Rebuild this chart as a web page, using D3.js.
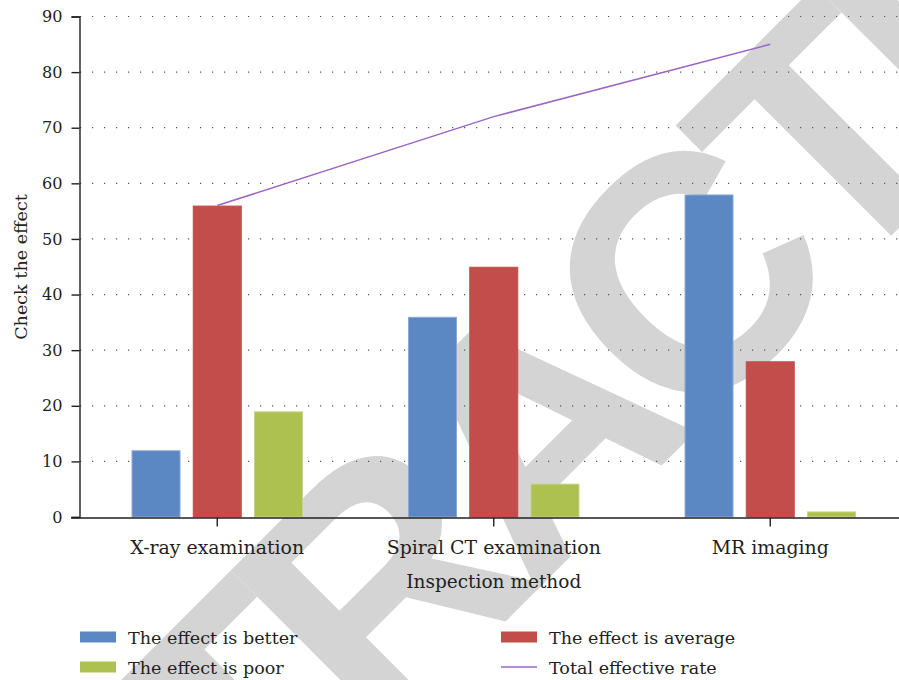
<!DOCTYPE html>
<html>
<head>
<meta charset="utf-8">
<script src="https://cdn.jsdelivr.net/npm/d3@7"></script>
<style>
  html, body { margin: 0; padding: 0; background: #fff; }
  svg { display: block; }
  text { font-family: "DejaVu Serif", "Liberation Serif", serif; fill: #231f20; }
</style>
</head>
<body>
<svg id="chart" width="899" height="680"></svg>
<script>
// Inspection methods and the three effect groups (counts), plus total effective rate (%)
const categories = ["X-ray examination", "Spiral CT examination", "MR imaging"];
const seriesNames = ["The effect is better", "The effect is average", "The effect is poor"];
const better  = [12, 36, 58];
const average = [56, 45, 28];
const poor    = [19, 6, 1];
const totalRate = [56, 72, 85];
const lineName = "Total effective rate";
const yTicks = [0, 10, 20, 30, 40, 50, 60, 70, 80, 90];
const colors = ["#5b87c2", "#c24d4a", "#adc151"];
const edgeColors = ["#8aa9d6", "#c24d4a", "#c6d48a"];
const lineColor = "#9b65c6";

const series = [better, average, poor];
const svg = d3.select("#chart");
const serif = "'DejaVu Serif', 'Liberation Serif', serif";

// Diagonal "RETRACTED" stamp sits behind the chart
svg.append("text")
  .attr("transform", "translate(-40.7,1167.8) rotate(-45)")
  .attr("text-anchor", "start")
  .style("font-family", "'Liberation Sans', Arial, sans-serif")
  .style("font-weight", "bold")
  .style("font-size", "335px")
  .style("letter-spacing", "-26px")
  .style("fill", "#d4d4d4")
  .text("RETRACTED");

const x0 = d3.scaleBand().domain(categories).range([79, 908.5]).padding(0);
const bw = x0.bandwidth();
const x1 = d3.scaleBand().domain(d3.range(3)).range([bw * 0.19, bw * 0.81]).paddingInner(0.2);
const y = d3.scaleLinear().domain([0, 90]).range([517, 16.5]);

// Dotted horizontal gridlines
svg.append("g")
  .selectAll("line")
  .data(yTicks.filter(d => d > 0))
  .join("line")
  .attr("x1", 80).attr("x2", 899)
  .attr("y1", d => y(d)).attr("y2", d => y(d))
  .attr("stroke", "#555")
  .attr("stroke-width", 1.2)
  .attr("stroke-dasharray", "1.2,10.8")
  .attr("stroke-dashoffset", -12);

// Grouped bars
const groups = svg.append("g")
  .selectAll("g")
  .data(categories)
  .join("g")
  .attr("transform", c => `translate(${x0(c)},0)`);

groups.selectAll("rect")
  .data((c, ci) => series.map((s, si) => ({ si, v: s[ci] })))
  .join("rect")
  .attr("x", d => x1(d.si) + 0.5)
  .attr("width", x1.bandwidth() - 1)
  .attr("y", d => y(d.v) + 0.5)
  .attr("height", d => y(0) - y(d.v) - 0.5)
  .attr("fill", d => colors[d.si])
  .attr("stroke", d => edgeColors[d.si])
  .attr("stroke-width", 1);

// Total effective rate line
const line = d3.line()
  .x((d, i) => x0(categories[i]) + bw / 2)
  .y(d => y(d));
svg.append("path")
  .datum(totalRate)
  .attr("d", line)
  .attr("fill", "none")
  .attr("stroke", lineColor)
  .attr("stroke-width", 1.5);

// Axes
const yAxis = svg.append("g")
  .attr("transform", "translate(79.5,0)")
  .call(d3.axisLeft(y).tickValues(yTicks).tickSize(8).tickPadding(9).tickFormat(d3.format("d")));
const xAxis = svg.append("g")
  .attr("transform", "translate(0,517.5)")
  .call(d3.axisBottom(x0).tickSize(9).tickSizeOuter(0).tickPadding(14));

[yAxis, xAxis].forEach(a => {
  a.select(".domain").attr("stroke", "#231f20").attr("stroke-width", 1.4);
  a.selectAll(".tick line").attr("stroke", "#231f20").attr("stroke-width", 1.4);
  a.selectAll("text")
    .style("font-family", serif)
    .attr("fill", "#231f20");
});
// extend x-axis line left to meet the y tick at zero
xAxis.select(".domain").attr("d", "M71,0.5H899");

// Axis titles
const xTitle = svg.append("text")
  .attr("x", x0(categories[1]) + bw / 2)
  .attr("y", 588)
  .attr("text-anchor", "middle")
  .text("Inspection method");
const yTitle = svg.append("text")
  .attr("transform", "translate(27,267) rotate(-90)")
  .attr("text-anchor", "middle")
  .text("Check the effect");

// Legend
const legendItems = [
  { name: seriesNames[0], type: "rect", color: colors[0], x: 80, y: 637 },
  { name: seriesNames[1], type: "rect", color: colors[1], x: 501, y: 637 },
  { name: seriesNames[2], type: "rect", color: colors[2], x: 80, y: 667 },
  { name: lineName, type: "line", color: lineColor, x: 501, y: 667 }
];
const lg = svg.append("g")
  .selectAll("g")
  .data(legendItems)
  .join("g")
  .attr("transform", d => `translate(${d.x},${d.y})`);
lg.filter(d => d.type === "rect").append("rect")
  .attr("x", 0).attr("y", -5.5).attr("width", 36).attr("height", 11)
  .attr("fill", d => d.color);
lg.filter(d => d.type === "line").append("line")
  .attr("x1", 0).attr("x2", 36).attr("y1", 0).attr("y2", 0)
  .attr("stroke", d => d.color).attr("stroke-width", 1.5);
const legendText = lg.append("text")
  .attr("x", 48).attr("y", 6.5)
  .text(d => d.name);

// Size each text group so a sample string spans about its set width in the loaded serif face
function fitSize(selection, sample, width) {
  const probe = svg.append("text").style("font-family", serif).style("font-size", "20px").text(sample);
  const w = probe.node().getComputedTextLength();
  probe.remove();
  selection.style("font-size", (20 * width / w * 1.08).toFixed(2) + "px");
}
fitSize(xAxis.selectAll(".tick text"), "X-ray examination", 161);
fitSize(yAxis.selectAll(".tick text"), "90", 19);
fitSize(xTitle, "Inspection method", 162);
fitSize(yTitle, "Check the effect", 135);
fitSize(legendText, "The effect is better", 157);
</script>
</body>
</html>
